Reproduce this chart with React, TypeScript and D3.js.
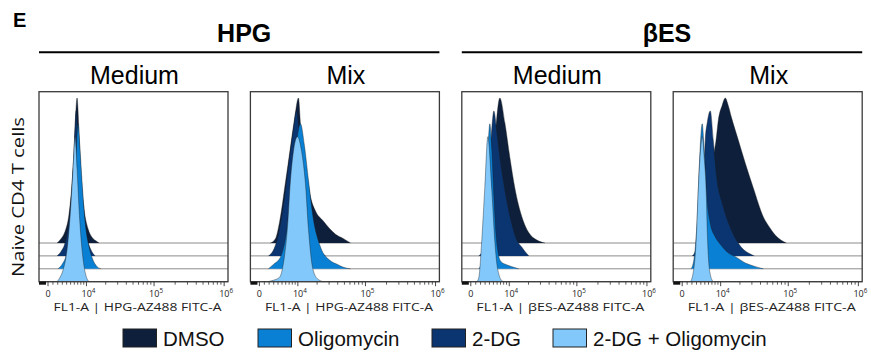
import React from 'react';
import * as d3 from 'd3';

// panel layout: groups x conditions
const groups = ['HPG', 'βES'];
const conditions = ['Medium', 'Mix'];
const axisTitles = ['FL1-A | HPG-AZ488 FITC-A', 'FL1-A | βES-AZ488 FITC-A'];

// drawn back to front (top baseline first)
const stackOrder = ['DMSO', '2-DG', 'Oligomycin', '2-DG + Oligomycin'];
const legendOrder = ['DMSO', 'Oligomycin', '2-DG', '2-DG + Oligomycin'];

const majorTicks = [0, 1e4, 1e5, 1e6];
const majorLabels = [['0', ''], ['10', '4'], ['10', '5'], ['10', '6']];
const minorTicks = [
  1000, 2000, 3000, 4000, 5000, 6000, 7000, 8000, 9000,
  20000, 30000, 40000, 50000, 60000, 70000, 80000, 90000,
  200000, 300000, 400000, 500000, 600000, 700000, 800000, 900000,
];

// histograms: [fluorescence, % of mode]
const hpgMediumDMSO = [[1850, 0], [2710, 3], [3620, 8], [4590, 20], [5390, 42], [5940, 65], [6220, 80], [6800, 100], [7420, 75], [7740, 60], [8400, 38], [9080, 24], [10600, 10], [12300, 4], [14200, 1.5], [15900, 0]];
const hpgMedium2DG = [[1850, 0], [2710, 3], [3620, 9], [4590, 24], [5390, 48], [5940, 72], [6520, 100], [7110, 76], [7740, 52], [8740, 28], [10240, 12], [11900, 4], [13780, 0]];
const hpgMediumOligo = [[2060, 0], [2930, 3], [3860, 9], [4860, 24], [5650, 48], [6520, 80], [7110, 100], [7740, 82], [8400, 60], [9450, 33], [11050, 15], [12790, 6], [14800, 1.5], [17040, 0]];
const hpgMediumCombo = [[1850, 0], [2490, 3], [3160, 8], [4100, 22], [4860, 45], [5650, 78], [6220, 100], [6800, 78], [7420, 50], [8400, 22], [9450, 7], [10240, 2], [11050, 0]];

const hpgMixDMSO = [[2270, 0], [3390, 3], [4340, 14], [5940, 42], [7420, 66], [8740, 85], [10240, 100], [11050, 82], [12330, 62], [14210, 45], [15890, 32], [18920, 22], [24860, 15], [30440, 10], [37200, 6], [48510, 3], [61190, 0]];
const hpgMix2DG = [[1850, 0], [2930, 4], [4100, 15], [5650, 40], [7110, 68], [8400, 88], [9450, 100], [10610, 85], [12330, 60], [13780, 38], [15890, 18], [18920, 7], [23240, 2], [26600, 0]];
const hpgMixOligo = [[1850, 0], [2930, 3], [4590, 8], [6220, 25], [7740, 55], [9080, 80], [11050, 100], [12790, 85], [14800, 61], [17040, 38], [22460, 15], [30440, 6], [39770, 3], [48510, 1], [61190, 0]];
const hpgMixCombo = [[1640, 0], [2930, 1], [4340, 3], [5390, 13], [6520, 38], [7420, 70], [8400, 90], [9850, 100], [11510, 90], [13240, 68], [14800, 36], [17040, 10], [20260, 2], [24860, 0]];

const besMediumDMSO = [[2270, 0], [3160, 3], [4100, 15], [4860, 45], [5650, 78], [6800, 100], [8400, 83], [10240, 59], [12330, 38], [15890, 18], [20260, 7], [26600, 2], [34820, 0]];
const besMedium2DG = [[1640, 0], [2490, 4], [3160, 20], [3860, 55], [4590, 88], [5110, 100], [5940, 85], [6800, 68], [8060, 50], [9080, 38], [11050, 22], [13240, 11], [15890, 6], [18920, 1.5], [20260, 0]];
const besMediumOligo = [[1640, 0], [2270, 5], [2930, 30], [3620, 80], [4100, 100], [4590, 82], [5110, 50], [5650, 25], [6220, 12], [7110, 5], [8740, 3], [11050, 1.5], [14210, 0]];
const besMediumCombo = [[1220, 0], [1640, 3], [2270, 29], [2930, 65], [3620, 100], [4590, 63], [5390, 27], [5940, 12], [6520, 5], [7110, 1.5], [8060, 0]];

const besMixDMSO = [[3160, 0], [4340, 5], [5650, 25], [7110, 55], [8400, 72], [9080, 84], [10610, 95], [11900, 100], [13240, 95], [14800, 87], [18920, 71], [24040, 55], [31480, 38], [43950, 18], [55420, 10], [61190, 7], [85120, 1], [93970, 0]];
const besMix2DG = [[2060, 0], [2930, 5], [3860, 20], [4590, 45], [5110, 80], [5650, 92], [6520, 100], [7420, 80], [8400, 57], [11050, 34], [14800, 18], [20970, 6], [29440, 1], [32540, 0]];
const besMixOligo = [[1850, 0], [2490, 8], [3160, 35], [3620, 70], [4340, 100], [4860, 80], [5390, 54], [6520, 31], [8060, 22], [9850, 17], [13240, 11], [17650, 8], [24040, 4], [31480, 2], [39770, 0.5], [43950, 0]];
const besMixCombo = [[1640, 0], [2060, 3], [2930, 29], [3390, 63], [3860, 88], [4340, 100], [4860, 85], [5390, 60], [5650, 35], [5940, 18], [6520, 5], [7420, 0]];

const panels = [
  { group: 0, condition: conditions[0], series: [hpgMediumDMSO, hpgMedium2DG, hpgMediumOligo, hpgMediumCombo] },
  { group: 0, condition: conditions[1], series: [hpgMixDMSO, hpgMix2DG, hpgMixOligo, hpgMixCombo] },
  { group: 1, condition: conditions[0], series: [besMediumDMSO, besMedium2DG, besMediumOligo, besMediumCombo] },
  { group: 1, condition: conditions[1], series: [besMixDMSO, besMix2DG, besMixOligo, besMixCombo] },
];

const colors: Record<string, string> = {
  'DMSO': '#0d1f3b',
  '2-DG': '#0a3571',
  'Oligomycin': '#0a80d4',
  '2-DG + Oligomycin': '#82c8fb',
};

const W = 871;
const H = 358;
const panelW = 189;
const panelStep = 211.4;
const panelLeft0 = 39;
const top = 91.7;
const bottom = 281.7;
const stackStep = 12.9;
const arial = 'Liberation Sans, Arial, sans-serif';
const open = 'Open Sans, sans-serif';

// biexponential-like display: asinh transform
const T = 6150;
const xLin = d3.scaleLinear()
  .domain([Math.asinh(-1845 / T), Math.asinh(1.135e6 / T)])
  .range([0, panelW]);
const x = (v: number) => xLin(Math.asinh(v / T));
const yH = d3.scaleLinear().domain([0, 100]).range([0, 145]);

export default function App() {
  return (
    <svg width={W} height={H} style={{ position: 'absolute', left: 0, top: 0, background: '#fff' }}>
      <text x={13} y={27} fontFamily={arial} fontWeight="bold" fontSize={20}>E</text>

      {groups.map((g, gi) => {
        const x0 = panelLeft0 + gi * 2 * panelStep;
        const x1 = x0 + panelStep + panelW;
        return (
          <g key={g}>
            <text x={(x0 + x1) / 2 + 5} y={41.7} textAnchor="middle" fontFamily={arial}
              fontWeight="bold" fontSize={25}>{g}</text>
            <line x1={x0} x2={x1} y1={52.3} y2={52.3} stroke="#000" strokeWidth={2} />
          </g>
        );
      })}

      <text transform={`translate(24,197) rotate(-90)`} textAnchor="middle" fontFamily={open}
        fontSize={16} textLength={160} lengthAdjust="spacingAndGlyphs" fill="#111">Naive CD4 T cells</text>

      {panels.map((p, pi) => {
        const left = panelLeft0 + pi * panelStep;
        return (
          <g key={pi} transform={`translate(${left},0)`}>
            <text x={panelW / 2 + 1} y={84} textAnchor="middle" fontFamily={arial} fontSize={25}>
              {p.condition}
            </text>
            {p.series.map((s, k) => {
              const base = bottom - (3 - k) * stackStep;
              const pts = s as [number, number][];
              const area = d3.area<[number, number]>()
                .x(d => x(d[0]))
                .y0(base)
                .y1(d => base - yH(d[1]))
                .curve(d3.curveMonotoneX);
              const outline = d3.line<[number, number]>()
                .x(d => x(d[0]))
                .y(d => base - yH(d[1]))
                .curve(d3.curveMonotoneX);
              return (
                <g key={k}>
                  <line x1={0} x2={panelW} y1={base} y2={base} stroke="#8c8c8c" strokeWidth={1} />
                  <path d={area(pts) || ''} fill={colors[stackOrder[k]]} />
                  <path d={outline(pts) || ''} fill="none" stroke="#1c1c1c" strokeWidth={0.6} strokeOpacity={0.65} />
                </g>
              );
            })}
            <rect x={0} y={top} width={panelW} height={bottom - top} fill="none" stroke="#3a3a3a" strokeWidth={1.3} />

            {/* axis ticks */}
            <rect x={0} y={bottom} width={x(-400)} height={3} fill="#111" />
            {minorTicks.map(t => (
              <line key={t} x1={x(t)} x2={x(t)} y1={bottom} y2={bottom + 3} stroke="#333" strokeWidth={0.8} />
            ))}
            {majorTicks.map((t, i) => (
              <g key={t}>
                <line x1={x(t)} x2={x(t)} y1={bottom} y2={bottom + 4.5} stroke="#333" strokeWidth={0.9} />
                <text x={x(t) + (majorLabels[i][1] ? 2 : 0)} y={296.5} textAnchor="middle" fontFamily={open}
                  fontSize={9} fill="#222">
                  {majorLabels[i][0]}
                  {majorLabels[i][1] && <tspan dy={-4} fontSize={6.3}>{majorLabels[i][1]}</tspan>}
                </text>
              </g>
            ))}
            <text x={panelW / 2 + 4} y={310.5} textAnchor="middle" fontFamily={open} fontSize={11.5}
              textLength={168} lengthAdjust="spacingAndGlyphs" fill="#222">
              {axisTitles[p.group]}
            </text>
          </g>
        );
      })}

      {/* legend */}
      {(() => {
        const starts = [123, 258, 432, 553];
        return legendOrder.map((name, i) => (
          <g key={name} transform={`translate(${starts[i]},329)`}>
            <rect x={0} y={0} width={33.5} height={18} fill={colors[name]} stroke="#222" strokeWidth={1} />
            <text x={40} y={16.5} fontFamily={arial} fontSize={20.5} fill="#111">{name}</text>
          </g>
        ));
      })()}
    </svg>
  );
}
